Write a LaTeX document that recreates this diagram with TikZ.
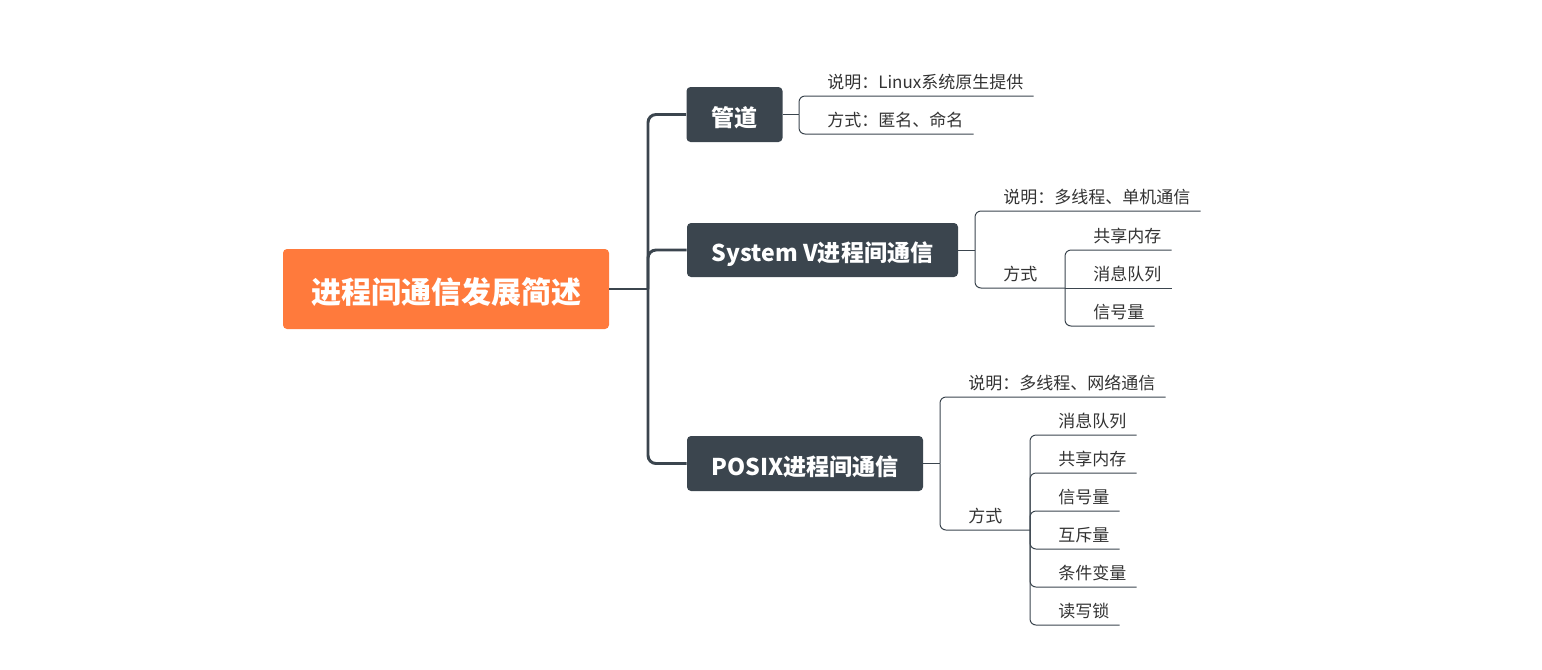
\documentclass[tikz,border=0pt]{standalone}
\usepackage{fontspec}
\setmainfont{Noto Sans CJK SC}
\definecolor{slate}{HTML}{3B454E}
\definecolor{orangec}{HTML}{FF7A3C}
\definecolor{leaftext}{HTML}{333333}
\tikzset{
  rootbox/.style={fill=orangec, rounded corners=3pt, text=white, font=\fontsize{22.5}{26}\selectfont\bfseries, inner sep=0pt, text height=24.5pt, text depth=2.9pt},
  mainbox/.style={fill=slate, rounded corners=3pt, text=white, font=\fontsize{17.3}{20}\selectfont\bfseries, inner sep=0pt, text height=20pt, text depth=2.2pt},
  leaf/.style={anchor=south west, text=leaftext, font=\fontsize{12.75}{15}\selectfont, inner xsep=7.5pt, inner ysep=0pt, text height=9.5pt, text depth=5.6pt},
  trunk/.style={draw=slate, line width=2.2pt, rounded corners=6pt},
  twig/.style={draw=slate, line width=0.75pt, rounded corners=4.5pt},
}
\begin{document}
\begin{tikzpicture}[x=0.75pt,y=-0.75pt]
\useasboundingbox (0,0) rectangle (1542,669);
% main nodes
\node[rootbox, minimum width=244.5pt, minimum height=60pt] (root) at (446,289) {进程间通信发展简述};
\node[mainbox, minimum width=72pt, minimum height=41.25pt] (n1) at (734.5,114.5) {管道};
\node[mainbox, minimum width=203.25pt, minimum height=40.5pt] (n2) at (822.5,250) {System V进程间通信};
\node[mainbox, minimum width=177pt, minimum height=41.25pt] (n3) at (805,463.5) {POSIX进程间通信};
% trunk
\coordinate (tr) at (648,289);
\draw[trunk] (root.east) -- (tr);
\draw[trunk] (tr) |- (n1.west);
\draw[trunk] (tr) |- (n2.west);
\draw[trunk] (tr) |- (n3.west);
% pipe leaves
\node[leaf] (l11) at (817,96) {说明：Linux系统原生提供};
\node[leaf] (l12) at (817,134) {方式：匿名、命名};
\coordinate (b1) at (799,114.5);
\draw[twig] (n1.east) -- (b1);
\draw[twig] (b1) |- (l11.south east);
\draw[twig] (b1) |- (l12.south east);
% System V leaves
\node[leaf] (l21) at (993,211) {说明：多线程、单机通信};
\node[leaf] (l22) at (993,288) {方式};
\coordinate (b2) at (975,250);
\coordinate (s2) at (1065,288);
\draw[twig] (n2.east) -- (b2);
\draw[twig] (b2) |- (l21.south east);
\draw[twig] (b2) |- (s2);
\node[leaf] (l221) at (1083,250) {共享内存};
\node[leaf] (l222) at (1083,288) {消息队列};
\node[leaf] (l223) at (1083,326) {信号量};
\draw[twig] (s2) |- (l221.south east);
\draw[twig] (s2) -- (l222.south east);
\draw[twig] (s2) |- (l223.south east);
% POSIX leaves
\node[leaf] (l31) at (958,397) {说明：多线程、网络通信};
\node[leaf] (l32) at (958,530) {方式};
\coordinate (b3) at (940,463.5);
\coordinate (s3) at (1030,530);
\draw[twig] (n3.east) -- (b3);
\draw[twig] (b3) |- (l31.south east);
\draw[twig] (b3) |- (s3);
\node[leaf] (l321) at (1048,435) {消息队列};
\node[leaf] (l322) at (1048,473) {共享内存};
\node[leaf] (l323) at (1048,511) {信号量};
\node[leaf] (l324) at (1048,549) {互斥量};
\node[leaf] (l325) at (1048,587) {条件变量};
\node[leaf] (l326) at (1048,625) {读写锁};
\foreach \n in {l321,l322,l323,l324,l325,l326}
  \draw[twig] (s3) |- (\n.south east);
\end{tikzpicture}
\end{document}
